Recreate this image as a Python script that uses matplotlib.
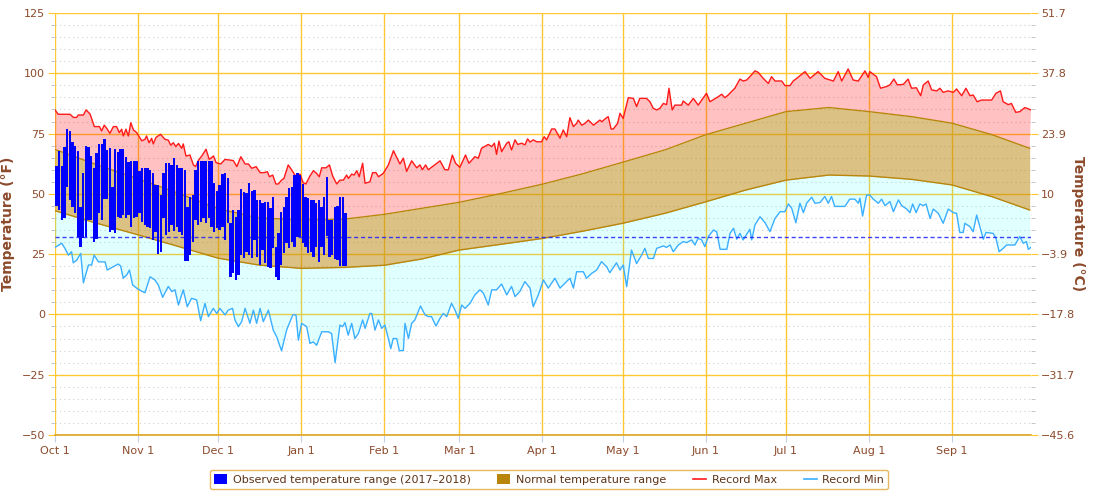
import numpy as np
import matplotlib
matplotlib.use('Agg')
import matplotlib.pyplot as plt
from matplotlib.patches import Patch
from matplotlib.lines import Line2D
from matplotlib.ticker import MultipleLocator, FuncFormatter

# ---------------- data ----------------
month_days = [0, 31, 61, 92, 123, 151, 182, 212, 243, 273, 304, 335]
month_labels = ['Oct 1', 'Nov 1', 'Dec 1', 'Jan 1', 'Feb 1', 'Mar 1',
                'Apr 1', 'May 1', 'Jun 1', 'Jul 1', 'Aug 1', 'Sep 1']

normal_days = [0, 15, 31, 46, 61, 76, 92, 108, 123, 137, 151, 166, 182,
               197, 212, 228, 243, 258, 273, 289, 304, 320, 335, 350, 364]
normal_high = [68.4, 62.3, 56.2, 50.3, 43.8, 40.0, 39.2, 39.5, 41.5, 44.0, 46.5, 50.0, 54.0,
               58.3, 63.1, 68.3, 74.5, 79.3, 84.1, 85.8, 84.1, 82.0, 79.3, 74.5, 68.9]
normal_low = [43.0, 38.0, 33.0, 28.2, 23.3, 20.5, 19.1, 19.5, 20.4, 23.0, 26.7, 29.0, 31.5,
              34.5, 37.8, 42.0, 46.7, 51.6, 55.7, 57.8, 57.4, 56.0, 53.7, 48.8, 43.3]

rmax_days = [0, 1.2, 5.6, 6.9, 8.1, 8.7, 10.6, 11.6, 13.1, 14.7, 16.6, 17.4, 18.4, 19.3, 20.5,
             21.8, 23, 24, 24.9, 25.5, 26.5, 27.4, 28.3, 29.3, 30.5, 32.4, 33.6, 34.2, 35.1,
             36.1, 36.7, 37.7, 39.4, 41.1, 42.3, 43.2, 44.2, 45.1, 46.1, 47.3, 47.9, 48.9,
             50.4, 51.7, 52.5, 53.5, 54.8, 56.4, 57.6, 59.2, 60.2, 61.9, 63.5, 66.6, 67.9,
             69.4, 71, 72.2, 73.5, 75.1, 76.6, 78.1, 79.3, 80.1, 81.3, 82.5, 83.4, 84.6, 85.5,
             87.1, 88.4, 90.2, 91.5, 92.7, 93.7, 95.2, 96.5, 97.7, 98.7, 99.6, 101.2, 102.5,
             103.7, 105.2, 106.4, 107.7, 108.9, 109.6, 110.8, 111.7, 112.7, 113.6, 114.9,
             115.8, 117.6, 118.6, 119.9, 120.8, 122.6, 124.5, 126.4, 128.8,
             130.1, 131.3, 133.2, 135.1, 136.3, 137.2, 138.4, 139.4, 143.8, 145.6, 146.9,
             148.4, 149.6, 151.2, 153.3, 154.6, 156.8, 158.1, 159.3, 161.8, 163.1, 164.1,
             164.9, 165.8, 166.8, 168.7, 169.5, 170.5, 171.8, 172.8, 174.3, 175.5, 176.5,
             177.4, 178.6, 179.9, 181.7, 182.7, 183.6, 185.5, 186.7, 188.6, 189.8, 191.1,
             192.3, 193.6, 194.8, 195.4, 196.7, 197.9, 199.2, 201.1, 203.5, 204.2, 206.0,
             206.6, 207.7, 208.5, 210.1, 211.0, 212.2, 214.1, 216.0, 217.2, 218.4, 220.9,
             222.2, 223.4, 224.7, 225.9, 227.2, 228.4, 229.3, 230.5, 231.5, 234.0, 234.6,
             236.5, 238.4, 240.2, 243.3, 244.6, 247.7, 249.0, 250.2, 251.4, 253.9, 255.8,
             257.0, 258.3, 259.5, 261.4, 262.6, 264.5, 266.4, 267.6, 268.9, 271.4, 272.6,
             274.5, 275.7, 277.0, 278.2, 280.1, 282.0, 285.0, 287.5, 290.7, 292.5, 293.8,
             296.2, 298.1, 300.0, 302.5, 303.7, 304.3, 306.8, 308.3, 310.5, 311.8, 313.3,
             314.6, 316.8, 318.6, 319.9, 321.7, 323.3, 324.3, 326.1, 327.4, 329.3, 330.5,
             331.7, 333.6, 335.5, 336.7, 338.6, 340.2, 341.7, 342.9, 344.4, 346.0, 349.8,
             351.4, 353.1, 354.1, 356.0, 357.2, 358.8, 360.3, 362.2, 364.5]
rmax_vals = [84.8, 83, 83, 81.7, 81.7, 82.7, 82.7, 84.8, 83.1, 77.9, 77.9, 76.1, 78.5, 77.2, 75.1,
             77.9, 77.9, 75.4, 76.8, 74, 76.8, 74, 79.5, 76.5, 75.4, 72, 72.6, 74, 71.2,
             73, 70.7, 73.4, 74.7, 72.6, 72.3, 70.2, 71.2, 69.6, 70.9, 68.9, 70.7, 65.7,
             66.1, 62, 61.3, 63.8, 65.7, 68.5, 64.3, 65.7, 62.9, 62.4, 64.3, 63.8, 61.3,
             65.4, 62.4, 62.4, 60.6, 61.3, 58.8, 58.8, 59.2, 57.1, 57.8, 54.1, 54.1, 55.7, 56.4,
             62, 59.9, 56.8, 58.2, 54.6, 54.1, 57.4, 59.6, 58.5, 57.1, 60.8, 60.8, 62,
             57.4, 54.1, 55.7, 55.7, 57.8, 56.4, 58.2, 57.8, 59.6, 57.1, 62.7,
             54.4, 55, 58.8, 58.8, 57.1, 58.5, 62, 67.9, 62.4,
             64.8, 59.3, 63.7, 60.8, 62, 60, 62, 60, 63.7, 60, 60,
             66.1, 62.7, 61, 66.1, 62.7, 65.4, 64.8, 68.9, 70.5, 69.6, 71,
             66.4, 71.9, 67.5, 71, 71.6, 68.2, 72.4, 70.5, 71, 70.3, 72.8,
             71.5, 72.4, 71.6, 71.6, 73.7, 72.4, 76.9, 76.9, 73.1, 76.5, 73.7,
             81.6, 77.9, 79.2, 80.6, 78.5, 79.2, 80.6, 78.5, 80.6, 79.9, 81.6,
             82, 76.9, 76.9, 79.2, 83.4, 81.3, 89.9, 89.6, 86.2, 89.6, 89.6,
             88.2, 85.5, 84.8, 85.5, 87.5, 87, 93.8, 84.8, 86.8, 86.8, 88.5,
             86.8, 89.6, 86.8, 91.7, 88.2, 90.3, 91.3, 89.9, 91, 93.8, 97.6,
             96.8, 97.2, 98.6, 101, 100.4, 97.9, 95.8, 98.6, 96.8, 96.8, 94.9,
             94.9, 96.8, 97.9, 99, 100.7, 97.9, 100.7, 97.9, 96.8, 100.7, 96.8,
             101.8, 97.2, 96.8, 101, 98.3, 100.7, 98.6, 93.8, 94.5, 95.2, 97.6,
             95.2, 95.4, 97.6, 93.8, 94, 90.7, 95.2, 96.8, 93.1, 92.7, 93.8,
             92.1, 92.7, 92.1, 93.5, 90.7, 93.8, 90.7, 91, 88.2, 88.9, 88.9,
             91.7, 92.7, 88.2, 87, 87.5, 83.8, 84.1, 85.8, 84.8]

rmin_days = [0, 2.5, 3.7, 5.0, 6.2, 6.8, 8.1, 9.6, 10.6, 12.5, 13.7, 14.6, 16.2, 18.7, 19.5,
             21.8, 23.6, 24.5, 25.5, 26.8, 27.8, 29.0, 31.1, 33.6, 35.5, 37.3, 38.6, 40.2,
             42.3, 43.6, 44.8, 46.1, 47.9, 49.4, 51.0, 52.9, 54.4, 56.0, 57.3, 59.1, 60.4,
             61.6, 63.5, 64.7, 66.3, 67.2, 68.5, 69.7, 71.0, 72.8, 74.1, 75.3, 76.6, 77.8,
             79.7, 81.5, 82.8, 84.6, 86.5, 88.8, 90.0, 90.9, 92.1, 94.0, 95.2, 96.5, 97.7,
             99.6, 102.1, 103.3, 104.6, 106.4, 107.4, 108.3, 109.5, 110.8, 112.0, 113.3,
             114.9, 115.8, 117.6, 118.3, 119.5, 120.8, 122.0, 123.2, 124.5, 125.4, 126.3,
             127.6, 128.6, 130.1, 130.7, 132.0, 133.2, 134.4, 136.5, 138.2, 139.4, 140.6,
             142.3, 143.8, 145.0, 146.3, 148.1, 149.4, 150.6, 151.9, 153.1, 155.0, 156.8,
             158.7, 160.0, 161.8, 163.1, 164.9, 166.8, 168.7, 170.5, 171.8, 173.6, 175.5,
             177.4, 178.6, 180.5, 182.4, 184.2, 186.7, 188.6, 192.3, 193.6, 194.8, 197.3,
             198.5, 200.4, 202.3, 204.1, 206.0, 207.2, 209.7, 211.0, 212.2, 213.5, 215.3,
             217.2, 219.1, 220.3, 221.6, 223.5, 224.7, 227.2, 228.4, 229.7, 230.9, 232.8,
             234.6, 235.9, 237.8, 239.0, 240.2, 241.5, 242.7, 244.0, 245.9, 247.1, 248.4,
             250.9, 252.1, 253.4, 254.6, 255.8, 257.0, 259.5, 260.2, 261.4, 263.3, 265.2,
             267.0, 268.9, 270.8, 272.6, 273.9, 275.1, 276.7, 278.2, 279.5, 280.7, 282.6,
             283.8, 285.7, 287.5, 288.8, 290.0, 291.2, 295.0, 296.8, 298.7, 300.0, 300.6,
             301.6, 303.1, 304.3, 305.6, 307.5, 308.7, 310.0, 311.8, 313.1, 315.0, 316.2,
             318.1, 319.3, 320.3, 321.6, 323.0, 324.3, 325.3, 326.8, 328.0, 329.9, 331.7,
             333.6, 335.5, 336.7, 337.9, 339.2, 339.8, 341.7, 342.9, 344.2, 345.4, 346.7,
             347.7, 350.4, 351.4, 352.6, 354.1, 355.4, 358.5, 360.3, 361.6, 362.8, 363.5,
             364.5]
rmin_vals = [27.8, 29.5, 27.4, 24.6, 26, 21.4, 22.5, 25.3, 13.1, 20.5, 20.5, 24.6, 21.8, 21.8, 18.4,
             19.8, 20.9, 20.1, 15, 16.4, 18.4, 12.2, 10.4, 9, 15.6, 14.3, 12.2, 7.1,
             11.6, 9.5, 10.2, 3.9, 10.2, 3.2, 6.7, 6, -2.6, 4.6, -0.9, 2.5, 0.4,
             2.5, -0.2, 1.8, 2.5, -2.3, -5.1, -3, 2.5, -3.7, 1.8, -3.7, 2.5, -3,
             1.8, -6.5, -9.3, -15.1, -6.5, -0.2, -0.2, -10.7, -3.7, -5.1, -12, -11.4, -12.8,
             -7.2, -7.2, -7.9, -20, -4.4, -5.1, -3.4, -8.6, -3.7, -10, -7.9,
             -2.3, -5.8, 0.4, 0.4, -6.5, -2.3, -5.8, -4.4, -10, -14.2, -10,
             -10, -15.1, -14.9, -3.7, -10, -3.7, -2.3, 3.5, -0.2, -0.9, -0.9,
             -4.8, -1.6, 0.4, -0.9, 4.6, 1.8, -1.6, 3.9, 2.5, 4.6, 8.1,
             10.2, 8.8, 3.9, 10.2, 10.2, 12.6, 8.1, 11.6, 7.4, 9.5, 13.6,
             10.9, 3.2, 8.1, 14.3, 10.9, 15, 10.9, 15, 10.9, 17.7, 17.7,
             15, 17, 18.4, 21.9, 19.8, 17.3, 21.4, 18.4, 20.5, 11.5, 26.7,
             21.1, 24.6, 27.4, 23.2, 23.2, 27.4, 28.4, 27.8, 28.8, 26, 28.8,
             30.2, 29.8, 30.9, 28.8, 31.6, 30.9, 28.1, 32.3, 35, 34.3, 27,
             27, 33.6, 35.7, 31.2, 33.6, 30.9, 35.3, 30.9, 37.1, 40.5, 38,
             34.3, 39.8, 42.6, 42.6, 45.8, 44.1, 38, 46.1, 42.2, 46.1, 48.6,
             46.1, 46.4, 48.9, 46.1, 48.9, 44.8, 44.8, 47.8, 47.8, 46.1, 48.2,
             40.8, 49.5, 49.5, 47.8, 46.1, 47.8, 45.1, 46.8, 42.6, 47.5, 45.1,
             43.7, 42.2, 45.8, 42.2, 45.8, 45.1, 45.8, 39.8, 43.7, 41.9, 37.8,
             43.7, 42.2, 41.9, 34, 34, 37.8, 36.4, 34.3, 41.2, 36.4, 31.2,
             34, 33.6, 31.6, 26, 27.4, 28.8, 28.8, 32.3, 29.5, 30.2, 27,
             27.8]

# observed daily range, 2017-10-01 onward
obs_high = [61.7, 67.9, 61.7, 69.6, 76.7, 76.2, 71.6, 69.8, 67.9, 44.7, 58.8, 69.8, 69.6, 65.7,
            60.6, 66.8, 70.7, 70.7, 72.6, 68.2, 68.9, 53.0, 68.5, 67.5, 68.5, 68.5, 65.4, 63.3,
            63.6, 63.6, 63.6, 59.6, 60.6, 60.6, 60.6, 59.9, 58.8, 53.7, 53.7, 49.5, 58.8, 62.6,
            62.6, 61.9, 64.7, 61.9, 60.6, 60.6, 59.9, 44.7, 48.8, 49.5, 59.9, 63.8, 63.8, 63.8,
            63.8, 63.8, 63.8, 54.4, 51.3, 53.7, 58.2, 58.8, 56.7, 37.8, 43.3, 40.5, 43.3, 51.9,
            50.9, 50.2, 54.4, 51.3, 51.6, 47.4, 47.4, 46.1, 46.8, 46.8, 44.0, 48.8, 28.1, 33.6,
            42.6, 44.7, 48.5, 52.3, 53.0, 57.8, 58.8, 57.8, 54.1, 48.8, 48.1, 47.4, 47.4, 46.1,
            47.4, 44.7, 48.8, 56.8, 39.1, 39.1, 44.4, 44.9, 48.8, 48.8, 41.9]
obs_low = [44.9, 43.3, 39.1, 39.8, 53.0, 47.4, 44.7, 41.9, 32.2, 28.0, 31.5, 32.0, 39.1, 39.1,
           30.2, 31.1, 41.9, 39.1, 47.7, 47.7, 34.3, 35.0, 33.9, 40.5, 39.8, 41.2, 39.8, 41.2,
           36.4, 39.8, 40.5, 41.9, 38.5, 37.0, 36.4, 35.7, 30.9, 34.3, 25.0, 26.0, 39.8, 32.9,
           34.3, 37.0, 34.7, 36.4, 34.3, 32.9, 22.3, 22.3, 24.6, 30.2, 39.1, 37.0, 38.5, 39.8,
           37.8, 39.8, 36.1, 34.3, 35.7, 35.0, 36.4, 30.9, 37.8, 15.6, 17.0, 14.3, 16.3, 24.6,
           23.2, 26.0, 24.6, 23.2, 30.9, 23.9, 20.5, 26.7, 21.2, 19.8, 19.1, 27.4, 15.6, 14.3,
           20.5, 25.3, 29.5, 27.4, 30.2, 28.1, 32.2, 32.2, 29.5, 28.1, 25.3, 26.0, 23.9, 28.1,
           21.9, 28.1, 24.6, 32.5, 23.9, 24.6, 22.8, 22.5, 20.0, 20.0, 20.0]

legend_labels = ['Observed temperature range (2017\u20132018)', 'Normal temperature range',
                 'Record Max', 'Record Min']

# ---------------- styling ----------------
BROWN = '#8B4A2B'
GRID = '#FFC832'
C_OBS = '#0000FF'
C_NORM = '#B8860B'
C_MAX = '#FF1A1A'
C_MIN = '#3AAFFF'

W, H = 1093, 494
fig = plt.figure(figsize=(W / 100, H / 100), dpi=100)
L, R, T, B = 55, 1031, 13, 435
ax = fig.add_axes([L / W, 1 - B / H, (R - L) / W, (B - T) / H])
ax.set_xlim(0, 364.5)
ax.set_ylim(-50, 125)

# grid
ax.set_axisbelow(True)
ax.yaxis.set_major_locator(MultipleLocator(25))
ax.yaxis.set_minor_locator(MultipleLocator(5))
ax.set_xticks(month_days)
ax.set_xticklabels(month_labels)
ax.grid(True, which='major', axis='both', color=GRID, lw=1.0, zorder=0)
ax.grid(True, which='minor', axis='y', color='#CFCFCF', lw=0.8, ls=(0, (1, 3)), zorder=0)

nd = np.array(normal_days, dtype=float)
nh = np.array(normal_high)
nl = np.array(normal_low)
rxd = np.array(rmax_days); rxv = np.array(rmax_vals)
rnd = np.array(rmin_days); rnv = np.array(rmin_vals)

# record max area (above normal high)
ax.fill(np.r_[rxd, nd[::-1]], np.r_[rxv, nh[::-1]], color=C_MAX, alpha=0.27, lw=0, zorder=1)
# record min area (below normal low)
ax.fill(np.r_[nd, rnd[::-1]], np.r_[nl, rnv[::-1]], color='#00FFFF', alpha=0.12, lw=0, zorder=1)
# normal range
ax.fill_between(nd, nl, nh, color=C_NORM, alpha=0.5, lw=0, zorder=2)
ax.plot(nd, nh, color=C_NORM, lw=1.0, zorder=2.5)
ax.plot(nd, nl, color=C_NORM, lw=1.0, zorder=2.5)

# record lines
ax.plot(rxd, rxv, color=C_MAX, lw=1.0, zorder=3)
ax.plot(rnd, rnv, color=C_MIN, lw=1.0, zorder=3)

# freezing line
ax.axhline(32, color='#1F1FFF', lw=1.0, ls=(0, (3, 2)), alpha=0.85, zorder=4)

# observed bars
oh = np.array(obs_high); ol = np.array(obs_low)
ax.bar(np.arange(len(oh)) + 0.5, oh - ol, bottom=ol, width=0.88, color=C_OBS, lw=0, zorder=5)

# spines
for s in ['left', 'right', 'top']:
    ax.spines[s].set_visible(False)
ax.spines['bottom'].set_color('#DDA520')
ax.spines['bottom'].set_linewidth(1.2)

ax.tick_params(axis='y', which='major', length=5, color=GRID, labelcolor=BROWN,
               labelsize=8, pad=2)
ax.tick_params(axis='y', which='minor', length=3, color='#BBBBBB')
ax.tick_params(axis='x', which='major', length=5, color='#C0D0E0', labelcolor=BROWN,
               labelsize=8, pad=3)
ax.yaxis.set_major_formatter(FuncFormatter(lambda v, p: f'{int(v)}'.replace('-', '\u2212')))

ax.set_ylabel('Temperature (\u00b0F)', color=BROWN, fontsize=10, fontweight='bold')
ax.yaxis.set_label_coords((15 - L) / (R - L), 0.5)

# right axis in Celsius
ax2 = ax.twinx()
ax2.set_ylim(ax.get_ylim())
ax2.yaxis.set_major_locator(MultipleLocator(25))
ax2.yaxis.set_minor_locator(MultipleLocator(5))


def c_fmt(v, pos):
    c = (v - 32) * 5 / 9
    s = f'{c:.1f}'
    if s.endswith('.0'):
        s = s[:-2]
    return s.replace('-', '\u2212')


ax2.yaxis.set_major_formatter(FuncFormatter(c_fmt))
for s in ['left', 'right', 'top', 'bottom']:
    ax2.spines[s].set_visible(False)
ax2.tick_params(axis='y', which='major', length=5, color=GRID, labelcolor=BROWN,
                labelsize=8, pad=2)
ax2.tick_params(axis='y', which='minor', length=3, color='#BBBBBB')
ax2.set_ylabel('Temperature (\u00b0C)', color=BROWN, fontsize=10, fontweight='bold',
               rotation=270, labelpad=12)
ax2.yaxis.set_label_coords((1085 - L) / (R - L), 0.5)

# legend
handles = [Patch(facecolor=C_OBS, edgecolor='none'),
           Patch(facecolor=C_NORM, edgecolor='none'),
           Line2D([], [], color=C_MAX, lw=1.2),
           Line2D([], [], color=C_MIN, lw=1.2)]
leg = fig.legend(handles, legend_labels, loc='center', bbox_to_anchor=(549 / W, 1 - 479.5 / H),
                 ncol=4, fontsize=8, frameon=True, fancybox=True, edgecolor='#E0A838',
                 handlelength=1.2, handleheight=1.0, columnspacing=2.4, handletextpad=0.5,
                 borderpad=0.35, labelcolor='#5C3317')
leg.get_frame().set_linewidth(1.0)
leg.get_frame().set_facecolor('white')

fig.savefig('out.png', dpi=100)
